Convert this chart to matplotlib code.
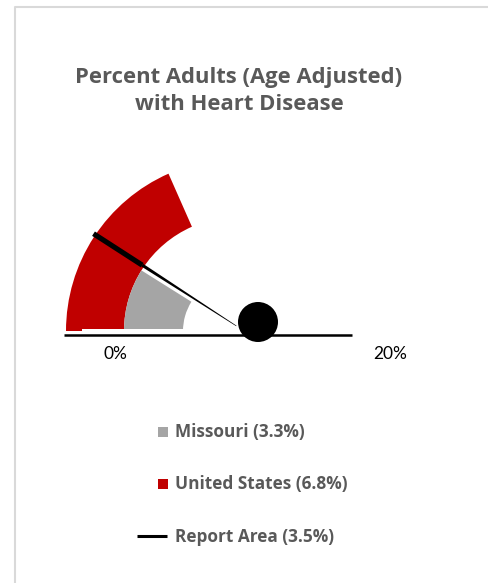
import numpy as np
import matplotlib
matplotlib.use("Agg")
import matplotlib.pyplot as plt
from matplotlib.patches import Wedge, Circle, Rectangle, Polygon

# ---- data ----
title_lines = ["Percent Adults (Age Adjusted)", "with Heart Disease"]
series_names = ["Missouri", "United States", "Report Area"]
series_values = [3.3, 6.8, 3.5]
series_colors = ["#a5a5a5", "#c00000", "#000000"]
tick_labels = ["0%", "20%"]
gauge_max = 18.5  # percent spanned by 180 degrees of the gauge

W, H = 488, 583
fig = plt.figure(figsize=(W / 100, H / 100), dpi=100)
ax = fig.add_axes([0, 0, 1, 1])
ax.set_xlim(0, W)
ax.set_ylim(0, H)
ax.set_aspect("auto")
ax.axis("off")

def Y(py):
    return H - py

# frame
ax.plot([15, 15, W], [Y(H), Y(7), Y(7)], color="#d9d9d9", lw=1.5, solid_capstyle="butt")

bfont = "Open Sans"
for ty, line in zip([77, 105], title_lines):
    ax.text(239, Y(ty), line, ha="center", va="center", fontsize=15.8, fontweight="bold",
            color="#595959", family=bfont)

cx, cy = 238, Y(331)
deg = lambda v: v / gauge_max * 180.0

miss, us, rep = series_values
# United States band
ax.add_patch(Wedge((cx, cy), 172, 180 - deg(us), 180, width=58, facecolor=series_colors[1], edgecolor="none"))
# Missouri band
ax.add_patch(Wedge((cx, cy), 114, 180 - deg(miss), 180, width=59, facecolor=series_colors[0], edgecolor="none"))

# needle
a = np.radians(180 - deg(rep) + 1.2)
u = np.array([np.cos(a), np.sin(a)])
n = np.array([-np.sin(a), np.cos(a)])
c = np.array([cx, cy + 4])
r_out, r_mid = 172, 114
thick = [c + u * r_out + n * 2.6, c + u * r_out - n * 2.6, c + u * r_mid - n * 2.6, c + u * r_mid + n * 2.6]
ax.add_patch(Polygon(thick, closed=True, facecolor="black", edgecolor="none"))
thin = [c + u * r_mid + n * 1.6, c + u * r_mid - n * 1.6, c + u * 2 - n * 0.3, c + u * 2 + n * 0.3]
ax.add_patch(Polygon(thin, closed=True, facecolor="black", edgecolor="none"))

# white strip and baseline
ax.add_patch(Rectangle((82, Y(334)), 160, 5, facecolor="white", edgecolor="none"))
ax.plot([64, 352], [Y(335), Y(335)], color="black", lw=1.8, solid_capstyle="butt")

# hub
ax.add_patch(Circle((258, Y(322)), 20, facecolor="black", edgecolor="none"))

# tick labels
ax.text(115, Y(354), tick_labels[0], ha="center", va="center", fontsize=12.5, color="black", family="Lato")
ax.text(390, Y(354), tick_labels[1], ha="center", va="center", fontsize=12.5, color="black", family="Lato")

# legend
leg_y = [432, 484, 537]
for i, (name, val, col) in enumerate(zip(series_names, series_values, series_colors)):
    y = Y(leg_y[i])
    if i < 2:
        ax.add_patch(Rectangle((158, y - 5), 10, 10, facecolor=col, edgecolor="none"))
    else:
        ax.plot([137, 167], [y + 1, y + 1], color=col, lw=2.2, solid_capstyle="butt")
    ax.text(175, y, f"{name} ({val}%)", ha="left", va="center", fontsize=12.4,
            fontweight="bold", color="#595959", family=bfont)

fig.savefig("out.png", dpi=100, facecolor="white")
